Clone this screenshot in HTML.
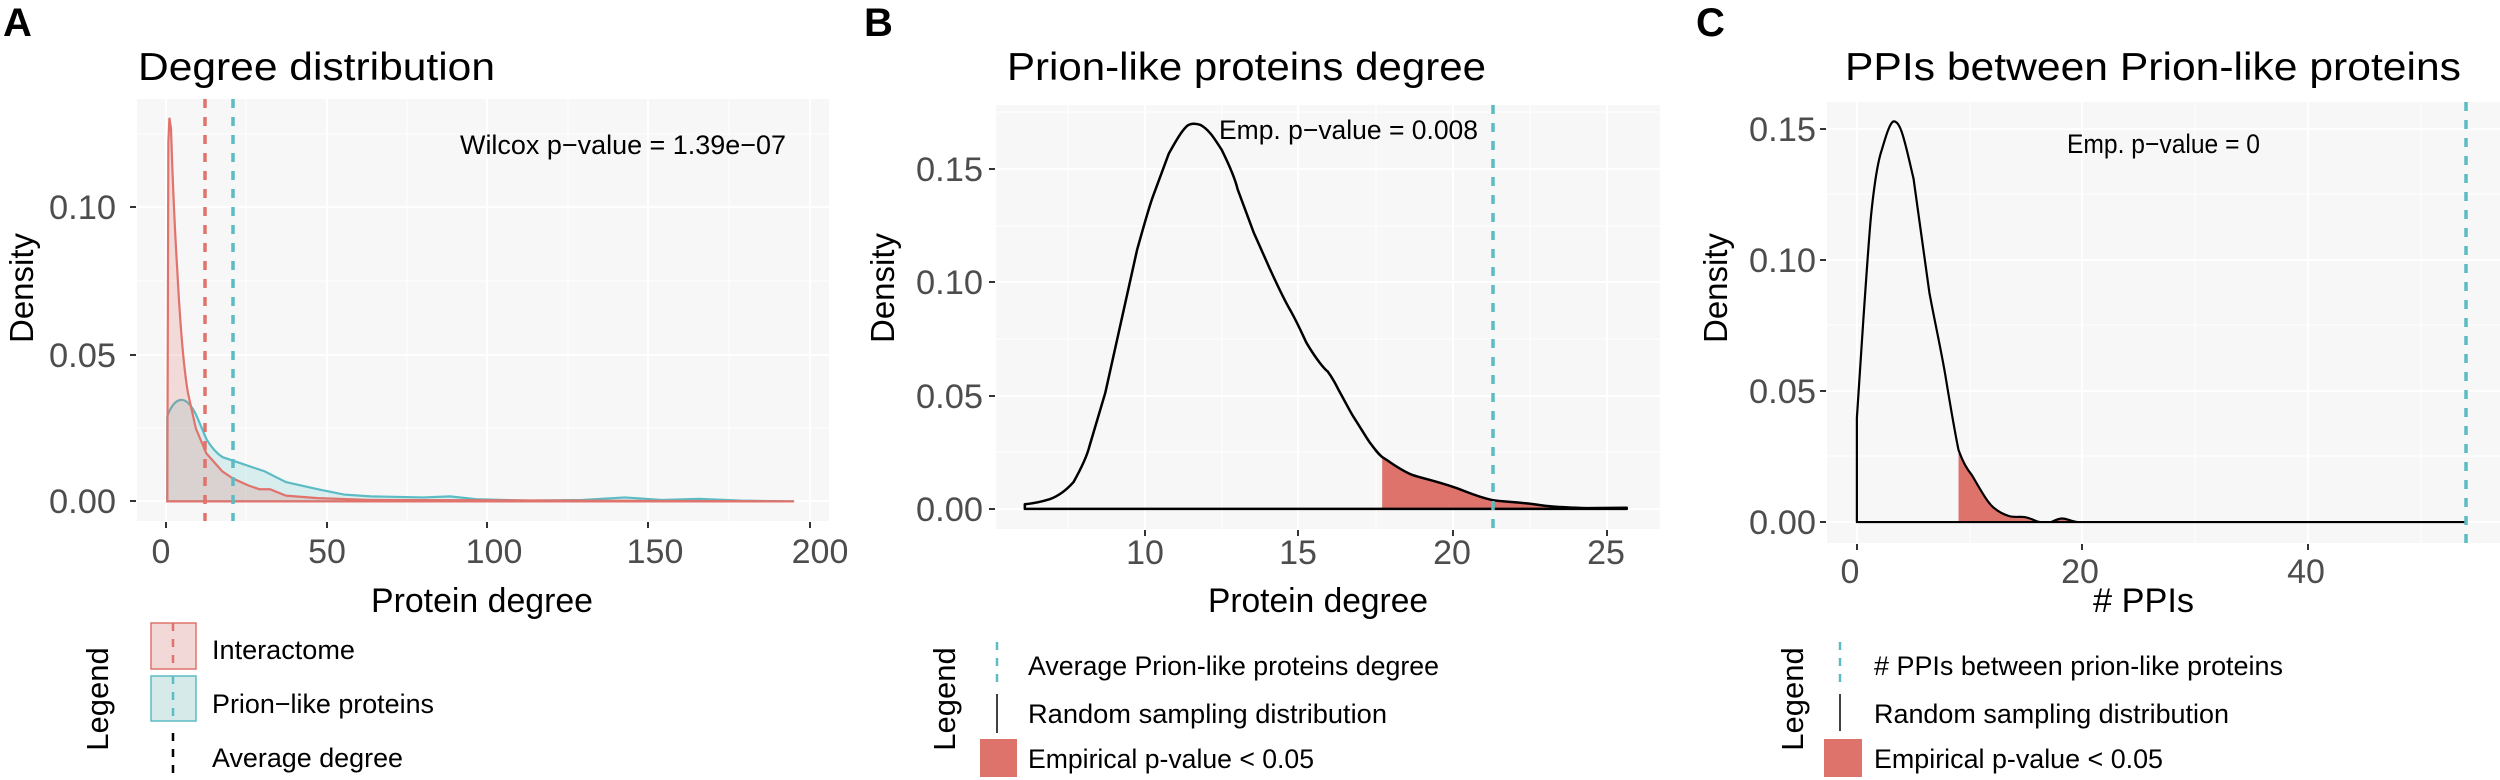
<!DOCTYPE html>
<html><head><meta charset="utf-8"><style>
html,body{margin:0;padding:0;background:#fff}
svg{display:block;font-family:"Liberation Sans",Arial,sans-serif}
.t{fill:#4d4d4d;font-size:34px}
.b{fill:#000}
</style></head><body>
<svg width="2500" height="780" viewBox="0 0 2500 780" xmlns="http://www.w3.org/2000/svg">
<!-- ===== Panel A ===== -->
<rect x="137" y="99" width="692" height="422" fill="#f7f7f7"/>
<g stroke="#fff" stroke-width="1">
<line x1="137" x2="829" y1="428" y2="428"/><line x1="137" x2="829" y1="281" y2="281"/><line x1="137" x2="829" y1="134" y2="134"/>
<line x1="246" x2="246" y1="99" y2="521"/><line x1="407" x2="407" y1="99" y2="521"/><line x1="568" x2="568" y1="99" y2="521"/><line x1="729" x2="729" y1="99" y2="521"/>
</g>
<g stroke="#fff" stroke-width="2">
<line x1="137" x2="829" y1="501" y2="501"/><line x1="137" x2="829" y1="355" y2="355"/><line x1="137" x2="829" y1="207" y2="207"/>
<line x1="166" x2="166" y1="99" y2="521"/><line x1="327" x2="327" y1="99" y2="521"/><line x1="487" x2="487" y1="99" y2="521"/><line x1="648" x2="648" y1="99" y2="521"/><line x1="810" x2="810" y1="99" y2="521"/>
</g>
<g transform="scale(0.5294,0.3571)">
<path d="M316,1404 L316,1165 C325,1130 335,1118 345,1120 C355,1122 365,1145 370,1160 L390,1230 C400,1255 410,1270 420,1280 L450,1295 L500,1320 L540,1350 L600,1370 L650,1385 L700,1390 L800,1393 L850,1390 L900,1398 L1000,1402 L1100,1400 L1180,1393 L1250,1400 L1320,1397 L1400,1402 L1500,1404 Z" fill="#00a8b0" fill-opacity="0.13" stroke="#5bbcc4" stroke-width="2.2" vector-effect="non-scaling-stroke"/>
<path d="M316,1404 L318,400 L320,330 L323,360 C326,500 330,640 335,760 C340,900 347,1030 355,1100 L370,1200 L390,1270 L420,1320 L440,1340 L470,1360 L490,1370 L510,1370 L540,1388 L600,1395 L700,1400 L1500,1404 Z" fill="#e06a60" fill-opacity="0.2" stroke="#e0736b" stroke-width="2.2" vector-effect="non-scaling-stroke"/>
</g>
<g stroke-width="3.5" stroke-dasharray="9,9" fill="none">
<line x1="205" x2="205" y1="99" y2="521" stroke="#e0736b"/>
<line x1="233" x2="233" y1="99" y2="521" stroke="#5bbcc4"/>
</g>
<g stroke="#333" stroke-width="2">
<line x1="130" x2="136" y1="501" y2="501"/><line x1="130" x2="136" y1="355" y2="355"/><line x1="130" x2="136" y1="207" y2="207"/>
<line x1="166" x2="166" y1="522" y2="528"/><line x1="327" x2="327" y1="522" y2="528"/><line x1="487" x2="487" y1="522" y2="528"/><line x1="648" x2="648" y1="522" y2="528"/><line x1="810" x2="810" y1="522" y2="528"/>
</g>
<text x="3" y="36" font-size="40" font-weight="bold" class="b">A</text>
<text x="138" y="80" font-size="39" class="b" textLength="357" lengthAdjust="spacingAndGlyphs">Degree distribution</text>
<text x="460" y="154" font-size="27" class="b" textLength="326" lengthAdjust="spacingAndGlyphs">Wilcox p−value = 1.39e−07</text>
<g class="t" text-anchor="end">
<text x="116" y="513" textLength="67" lengthAdjust="spacingAndGlyphs">0.00</text>
<text x="116" y="367" textLength="67" lengthAdjust="spacingAndGlyphs">0.05</text>
<text x="116" y="219" textLength="67" lengthAdjust="spacingAndGlyphs">0.10</text>
</g>
<g class="t" text-anchor="middle">
<text x="161" y="563">0</text><text x="327" y="563">50</text><text x="494" y="563">100</text><text x="655" y="563">150</text><text x="820" y="563">200</text>
</g>
<text transform="translate(33,288) rotate(-90)" text-anchor="middle" font-size="33" class="b">Density</text>
<text x="371" y="612" font-size="34" class="b" textLength="222" lengthAdjust="spacingAndGlyphs">Protein degree</text>
<text transform="translate(108,699) rotate(-90)" text-anchor="middle" font-size="31" class="b">Legend</text>
<rect x="151" y="623" width="45" height="46" fill="#f2d8d6" stroke="#e0736b" stroke-width="1.5"/>
<rect x="151" y="676" width="45" height="45" fill="#d6eaea" stroke="#5bbcc4" stroke-width="1.5"/>
<line x1="173" x2="173" y1="623" y2="669" stroke="#e0736b" stroke-width="2.5" stroke-dasharray="8,8"/>
<line x1="173" x2="173" y1="676" y2="721" stroke="#5bbcc4" stroke-width="2.5" stroke-dasharray="8,8"/>
<line x1="173" x2="173" y1="733" y2="780" stroke="#000" stroke-width="2.5" stroke-dasharray="8,8"/>
<g class="b" font-size="27">
<text x="212" y="659" textLength="143" lengthAdjust="spacingAndGlyphs">Interactome</text>
<text x="212" y="713" textLength="222" lengthAdjust="spacingAndGlyphs">Prion−like proteins</text>
<text x="212" y="767" textLength="191" lengthAdjust="spacingAndGlyphs">Average degree</text>
</g>

<!-- ===== Panel B ===== -->
<rect x="996" y="105" width="664" height="424" fill="#f7f7f7"/>
<g stroke="#fff" stroke-width="1">
<line x1="996" x2="1660" y1="452" y2="452"/><line x1="996" x2="1660" y1="339" y2="339"/><line x1="996" x2="1660" y1="226" y2="226"/><line x1="996" x2="1660" y1="112" y2="112"/>
<line x1="1068" x2="1068" y1="105" y2="529"/><line x1="1222" x2="1222" y1="105" y2="529"/><line x1="1376" x2="1376" y1="105" y2="529"/><line x1="1530" x2="1530" y1="105" y2="529"/>
</g>
<g stroke="#fff" stroke-width="2">
<line x1="996" x2="1660" y1="509" y2="509"/><line x1="996" x2="1660" y1="396" y2="396"/><line x1="996" x2="1660" y1="282" y2="282"/><line x1="996" x2="1660" y1="169" y2="169"/>
<line x1="1145" x2="1145" y1="105" y2="529"/><line x1="1298" x2="1298" y1="105" y2="529"/><line x1="1453" x2="1453" y1="105" y2="529"/><line x1="1607" x2="1607" y1="105" y2="529"/>
</g>
<g transform="translate(830,0) scale(0.5294,0.3571)">
<path d="M1043,1425 L1043,1280 C1060,1295 1075,1315 1100,1330 C1120,1340 1140,1345 1180,1365 C1205,1378 1220,1390 1250,1400 C1270,1405 1290,1405 1330,1412 C1350,1417 1370,1420 1430,1423 L1505,1422 L1505,1425 Z" fill="#dd736b"/>
<path d="M368,1425 L368,1412 C385,1410 400,1405 415,1398 C430,1390 445,1375 460,1350 C475,1310 485,1280 490,1250 C500,1200 510,1150 520,1100 L550,900 L580,700 C595,620 605,570 610,550 C625,490 635,450 640,430 C655,390 665,365 675,352 C682,345 690,345 700,350 C715,362 725,385 740,420 C755,465 765,500 770,530 L800,650 L830,750 C850,815 860,845 870,870 C885,910 895,945 900,960 C920,1010 935,1035 940,1040 C950,1060 955,1075 960,1090 C975,1130 985,1160 990,1170 C1005,1205 1015,1230 1020,1240 C1030,1260 1035,1270 1043,1280 C1060,1295 1075,1315 1100,1330 C1120,1340 1140,1345 1180,1365 C1205,1378 1220,1390 1250,1400 C1270,1405 1290,1405 1330,1412 C1350,1417 1370,1420 1430,1423 L1505,1422 L1505,1425 Z" fill="none" stroke="#000" stroke-width="2.5" vector-effect="non-scaling-stroke" stroke-linejoin="round"/>
</g>
<line x1="1493" x2="1493" y1="105" y2="529" stroke="#5bbcc4" stroke-width="3.5" stroke-dasharray="9,9"/>
<g stroke="#333" stroke-width="2">
<line x1="989" x2="995" y1="509" y2="509"/><line x1="989" x2="995" y1="396" y2="396"/><line x1="989" x2="995" y1="282" y2="282"/><line x1="989" x2="995" y1="169" y2="169"/>
<line x1="1145" x2="1145" y1="530" y2="536"/><line x1="1298" x2="1298" y1="530" y2="536"/><line x1="1453" x2="1453" y1="530" y2="536"/><line x1="1607" x2="1607" y1="530" y2="536"/>
</g>
<text x="864" y="36" font-size="40" font-weight="bold" class="b">B</text>
<text x="1007" y="80" font-size="39" class="b" textLength="479" lengthAdjust="spacingAndGlyphs">Prion-like proteins degree</text>
<text x="1219" y="139" font-size="27" class="b" textLength="259" lengthAdjust="spacingAndGlyphs">Emp. p−value = 0.008</text>
<g class="t" text-anchor="end">
<text x="983" y="521" textLength="67" lengthAdjust="spacingAndGlyphs">0.00</text>
<text x="983" y="408" textLength="67" lengthAdjust="spacingAndGlyphs">0.05</text>
<text x="983" y="294" textLength="67" lengthAdjust="spacingAndGlyphs">0.10</text>
<text x="983" y="181" textLength="67" lengthAdjust="spacingAndGlyphs">0.15</text>
</g>
<g class="t" text-anchor="middle">
<text x="1145" y="564">10</text><text x="1298" y="564">15</text><text x="1452" y="564">20</text><text x="1606" y="564">25</text>
</g>
<text transform="translate(894,288) rotate(-90)" text-anchor="middle" font-size="33" class="b">Density</text>
<text x="1208" y="612" font-size="34" class="b" textLength="220" lengthAdjust="spacingAndGlyphs">Protein degree</text>
<text transform="translate(955,699) rotate(-90)" text-anchor="middle" font-size="31" class="b">Legend</text>
<line x1="997" x2="997" y1="642" y2="682" stroke="#5bbcc4" stroke-width="2.5" stroke-dasharray="8,8"/>
<line x1="997" x2="997" y1="694" y2="733" stroke="#000" stroke-width="1.5"/>
<rect x="980" y="739" width="37" height="38" fill="#dd736b"/>
<g class="b" font-size="27">
<text x="1028" y="675" textLength="411" lengthAdjust="spacingAndGlyphs">Average Prion-like proteins degree</text>
<text x="1028" y="723" textLength="359" lengthAdjust="spacingAndGlyphs">Random  sampling distribution</text>
<text x="1028" y="768" textLength="286" lengthAdjust="spacingAndGlyphs">Empirical p-value &lt; 0.05</text>
</g>

<!-- ===== Panel C ===== -->
<rect x="1827" y="102" width="673" height="441" fill="#f7f7f7"/>
<g stroke="#fff" stroke-width="1">
<line x1="1827" x2="2500" y1="456" y2="456"/><line x1="1827" x2="2500" y1="325" y2="325"/><line x1="1827" x2="2500" y1="194" y2="194"/>
<line x1="1970" x2="1970" y1="102" y2="543"/><line x1="2195" x2="2195" y1="102" y2="543"/><line x1="2421" x2="2421" y1="102" y2="543"/>
</g>
<g stroke="#fff" stroke-width="2">
<line x1="1827" x2="2500" y1="522" y2="522"/><line x1="1827" x2="2500" y1="391" y2="391"/><line x1="1827" x2="2500" y1="260" y2="260"/><line x1="1827" x2="2500" y1="129" y2="129"/>
<line x1="1857" x2="1857" y1="102" y2="543"/><line x1="2082" x2="2082" y1="102" y2="543"/><line x1="2308" x2="2308" y1="102" y2="543"/>
</g>
<g transform="translate(1670,0) scale(0.5294,0.3571)">
<path d="M545,1462 L545,1260 C555,1300 562,1315 570,1330 C580,1355 585,1368 590,1380 C598,1400 605,1413 610,1420 C622,1435 630,1440 640,1445 C650,1450 660,1446 670,1448 C685,1452 692,1462 700,1462 L720,1462 C730,1455 735,1452 740,1452 C750,1452 758,1460 770,1462 Z" fill="#dd736b"/>
<path d="M353,1462 L353,1170 L365,900 C372,750 376,660 380,600 C387,500 393,450 400,420 C408,380 415,345 422,340 C430,338 436,360 440,380 C448,420 455,470 460,500 C470,600 480,720 490,820 C500,900 512,980 520,1050 C530,1140 538,1210 545,1260 C555,1300 562,1315 570,1330 C580,1355 585,1368 590,1380 C598,1400 605,1413 610,1420 C622,1435 630,1440 640,1445 C650,1450 660,1446 670,1448 C685,1452 692,1462 700,1462 L720,1462 C730,1455 735,1452 740,1452 C750,1452 758,1460 770,1462 L1500,1462 Z" fill="none" stroke="#000" stroke-width="2.2" vector-effect="non-scaling-stroke" stroke-linejoin="round"/>
</g>
<line x1="2466" x2="2466" y1="102" y2="543" stroke="#5bbcc4" stroke-width="3.5" stroke-dasharray="9,9"/>
<g stroke="#333" stroke-width="2">
<line x1="1820" x2="1826" y1="522" y2="522"/><line x1="1820" x2="1826" y1="391" y2="391"/><line x1="1820" x2="1826" y1="260" y2="260"/><line x1="1820" x2="1826" y1="129" y2="129"/>
<line x1="1857" x2="1857" y1="544" y2="550"/><line x1="2082" x2="2082" y1="544" y2="550"/><line x1="2308" x2="2308" y1="544" y2="550"/>
</g>
<text x="1696" y="36" font-size="40" font-weight="bold" class="b">C</text>
<text x="1845" y="80" font-size="39" class="b" textLength="616" lengthAdjust="spacingAndGlyphs">PPIs between Prion-like proteins</text>
<text x="2067" y="153" font-size="27" class="b" textLength="193" lengthAdjust="spacingAndGlyphs">Emp. p−value = 0</text>
<g class="t" text-anchor="end">
<text x="1816" y="534" textLength="67" lengthAdjust="spacingAndGlyphs">0.00</text>
<text x="1816" y="403" textLength="67" lengthAdjust="spacingAndGlyphs">0.05</text>
<text x="1816" y="272" textLength="67" lengthAdjust="spacingAndGlyphs">0.10</text>
<text x="1816" y="141" textLength="67" lengthAdjust="spacingAndGlyphs">0.15</text>
</g>
<g class="t" text-anchor="middle">
<text x="1850" y="583">0</text><text x="2080" y="583">20</text><text x="2306" y="583">40</text>
</g>
<text transform="translate(1727,288) rotate(-90)" text-anchor="middle" font-size="33" class="b">Density</text>
<text x="2093" y="612" font-size="34" class="b" textLength="101" lengthAdjust="spacingAndGlyphs"># PPIs</text>
<text transform="translate(1803,699) rotate(-90)" text-anchor="middle" font-size="31" class="b">Legend</text>
<line x1="1840" x2="1840" y1="642" y2="684" stroke="#5bbcc4" stroke-width="2.5" stroke-dasharray="8,8"/>
<line x1="1840" x2="1840" y1="694" y2="731" stroke="#000" stroke-width="1.5"/>
<rect x="1824" y="739" width="38" height="38" fill="#dd736b"/>
<g class="b" font-size="27">
<text x="1874" y="675" textLength="409" lengthAdjust="spacingAndGlyphs"># PPIs between prion-like proteins</text>
<text x="1874" y="723" textLength="355" lengthAdjust="spacingAndGlyphs">Random sampling distribution</text>
<text x="1874" y="768" textLength="289" lengthAdjust="spacingAndGlyphs">Empirical p-value &lt; 0.05</text>
</g>
</svg>
</body></html>
